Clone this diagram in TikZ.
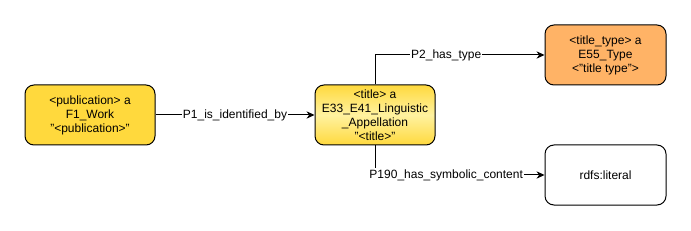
\documentclass[tikz,border=0pt]{standalone}
\usepackage{fontspec}
\setmainfont{Liberation Sans}
\usetikzlibrary{arrows.meta}

\definecolor{gold}{RGB}{255,217,61}
\definecolor{paleyellow}{RGB}{255,242,160}
\definecolor{peach}{RGB}{255,179,102}

\tikzset{every picture/.style={line width=0.75pt}}
\tikzset{
  entity/.style={draw, rounded corners=6.75pt, align=center, inner sep=0.75pt,
    minimum width=90.75pt, minimum height=45pt, font=\fontsize{9}{10.5}\selectfont},
  prop/.style={fill=white, inner sep=0.75pt, font=\fontsize{9}{10}\selectfont},
  link/.style={-{Stealth[length=6pt,width=5.5pt]}, line width=0.75pt}
}

\begin{document}
\begin{tikzpicture}[x=0.75pt,y=0.75pt,yscale=-1,xscale=1]
\useasboundingbox (0,0) rectangle (691,231);

%Rounded Rect [id:publication]
\node (work) [entity, fill=gold, minimum width=97.5pt] at (90,115) {<publication> a\\F1\_Work\\"<publication>"};
%Rounded Rect [id:title]
\node (appel) [entity, minimum width=90pt, top color=gold, bottom color=gold, middle color=paleyellow] at (375,115) {<title> a\\E33\_E41\_Linguistic\\\_Appellation\\"<title>"};
%Rounded Rect [id:title_type]
\node (ttype) [entity, fill=peach] at (605.5,55) {<title\_type> a\\E55\_Type\\<"title type">};
%Rounded Rect [id:literal]
\node (lit) [entity, fill=white] at (605.5,175) {rdfs:literal};

%Connectors
\draw [link] (work) -- (appel) node [prop, midway] {P1\_is\_identified\_by};
\draw [link] (appel.north) |- (ttype.west) node [prop, pos=0.71] {P2\_has\_type};
\draw [link] (appel.south) |- (lit.west) node [prop, pos=0.71] {P190\_has\_symbolic\_content};

\end{tikzpicture}
\end{document}
